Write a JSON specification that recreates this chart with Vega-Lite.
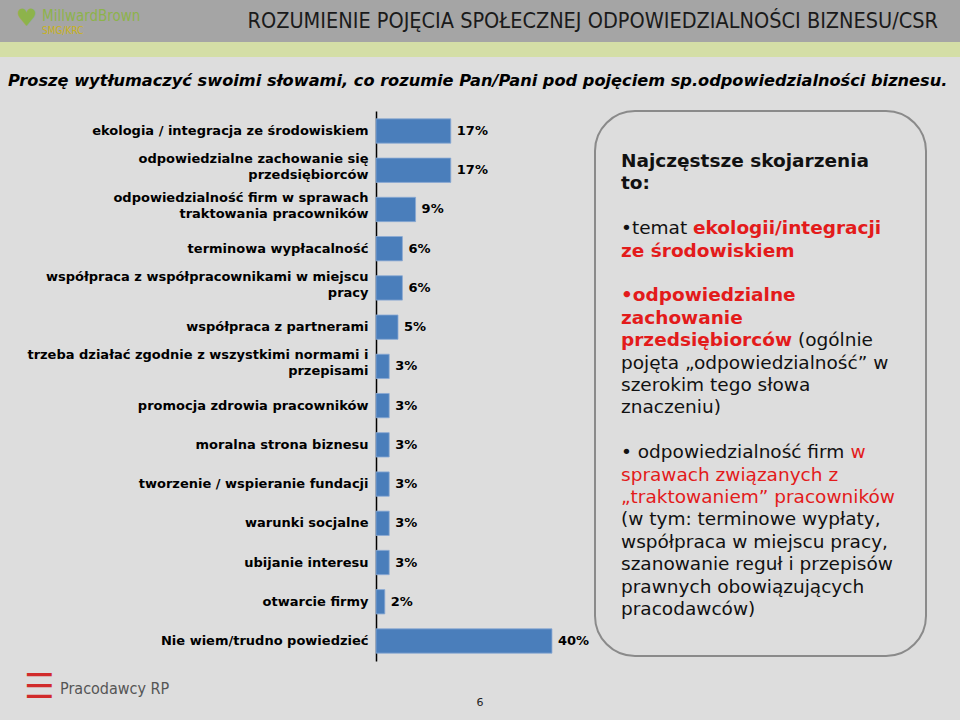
{
  "$schema": "https://vega.github.io/schema/vega-lite/v6.json",
  "background": "#dddddd",
  "padding": 0,
  "spacing": 0,
  "config": {"view": {"stroke": null}},
  "vconcat": [
    {
      "width": 960,
      "height": 42,
      "view": {"fill": "#a5a5a5", "stroke": null},
      "data": {"values": [
        {"part": "title", "text": "ROZUMIENIE POJĘCIA SPOŁECZNEJ ODPOWIEDZIALNOŚCI BIZNESU/CSR"},
        {"part": "icon", "text": "♥"},
        {"part": "brand", "text": "MillwardBrown"},
        {"part": "unit", "text": "SMG/KRC"}
      ]},
      "layer": [
        {
          "transform": [{"filter": "datum.part == 'title'"}],
          "mark": {"type": "text", "align": "right", "baseline": "middle", "dx": 458, "dy": 1, "font": "DejaVu Sans Condensed, Liberation Sans Narrow, Liberation Sans", "fontSize": 21.5, "color": "#1a1a1a"},
          "encoding": {"text": {"field": "text"}}
        },
        {
          "transform": [{"filter": "datum.part == 'icon'"}],
          "mark": {"type": "text", "align": "left", "baseline": "middle", "dx": -464, "dy": -2, "font": "DejaVu Sans", "fontSize": 24, "color": "#8db34b"},
          "encoding": {"text": {"field": "text"}}
        },
        {
          "transform": [{"filter": "datum.part == 'brand'"}],
          "mark": {"type": "text", "align": "left", "baseline": "middle", "dx": -438, "dy": -5, "font": "DejaVu Sans Condensed, Liberation Sans Narrow, Liberation Sans", "fontSize": 15, "color": "#8db34b"},
          "encoding": {"text": {"field": "text"}}
        },
        {
          "transform": [{"filter": "datum.part == 'unit'"}],
          "mark": {"type": "text", "align": "left", "baseline": "middle", "dx": -438, "dy": 10, "font": "DejaVu Sans Condensed, Liberation Sans Narrow, Liberation Sans", "fontSize": 10, "color": "#c9b21a"},
          "encoding": {"text": {"field": "text"}}
        }
      ]
    },
    {
      "width": 960,
      "height": 15,
      "view": {"fill": "#d4dea6", "stroke": null},
      "data": {"values": [{}]},
      "mark": {"type": "text"},
      "encoding": {"text": {"value": ""}}
    },
    {
      "width": 960,
      "height": 53,
      "data": {"values": [{"text": "Proszę wytłumaczyć swoimi słowami, co rozumie Pan/Pani pod pojęciem sp.odpowiedzialności biznesu."}]},
      "mark": {"type": "text", "align": "left", "baseline": "middle", "dx": -472, "dy": -3, "font": "DejaVu Sans", "fontSize": 16.2, "fontWeight": "bold", "fontStyle": "italic", "color": "#000000"},
      "encoding": {"text": {"field": "text"}}
    },
    {
      "spacing": 2,
      "hconcat": [
        {
          "width": 1,
          "height": 550,
          "data": {"values": [{}]},
          "mark": {"type": "text"},
          "encoding": {"text": {"value": ""}}
        },
        {
          "width": 216,
          "height": 550,
          "data": {"values": [
            {"category": "ekologia / integracja ze środowiskiem", "share": 0.17},
            {"category": "odpowiedzialne zachowanie się\nprzedsiębiorców", "share": 0.17},
            {"category": "odpowiedzialność firm w sprawach\ntraktowania pracowników", "share": 0.09},
            {"category": "terminowa wypłacalność", "share": 0.06},
            {"category": "współpraca z współpracownikami w miejscu\npracy", "share": 0.06},
            {"category": "współpraca z partnerami", "share": 0.05},
            {"category": "trzeba działać zgodnie z wszystkimi normami i\nprzepisami", "share": 0.03},
            {"category": "promocja zdrowia pracowników", "share": 0.03},
            {"category": "moralna strona biznesu", "share": 0.03},
            {"category": "tworzenie / wspieranie fundacji", "share": 0.03},
            {"category": "warunki socjalne", "share": 0.03},
            {"category": "ubijanie interesu", "share": 0.03},
            {"category": "otwarcie firmy", "share": 0.02},
            {"category": "Nie wiem/trudno powiedzieć", "share": 0.40}
          ]},
          "encoding": {
            "y": {
              "field": "category",
              "type": "nominal",
              "sort": null,
              "scale": {"paddingInner": 0.38, "paddingOuter": 0.2},
              "axis": {
                "title": null,
                "ticks": false,
                "domainColor": "#000000",
                "domainWidth": 1.5,
                "labelPadding": 8,
                "labelFont": "DejaVu Sans",
                "labelFontSize": 13,
                "labelFontWeight": "bold",
                "labelColor": "#000000",
                "labelLimit": 400,
                "labelLineHeight": 16,
                "labelExpr": "split(datum.label, '\\n')",
                "labelOffset": {"condition": {"test": "indexof(datum.value, '\\n') >= 0", "value": -11}, "value": 0},
                "minExtent": 373
              }
            },
            "x": {
              "field": "share",
              "type": "quantitative",
              "scale": {"domain": [0, 0.491], "nice": false, "zero": true},
              "axis": null
            }
          },
          "layer": [
            {"mark": {"type": "bar", "color": "#4a7ebb", "stroke": "#8aa9d4", "strokeWidth": 0.8}},
            {
              "mark": {"type": "text", "align": "left", "baseline": "middle", "dx": 6, "font": "DejaVu Sans", "fontSize": 13, "fontWeight": "bold", "color": "#000000"},
              "encoding": {"text": {"field": "share", "format": ".0%"}}
            }
          ]
        },
        {
          "width": 331,
          "height": 545,
          "view": {"stroke": "#8a8a8a", "strokeWidth": 2, "cornerRadius": 40, "fill": null},
          "data": {"values": [
            {"line": 0, "seq": 1, "kind": "heading", "text": "Najczęstsze skojarzenia"},
            {"line": 1, "seq": 1, "kind": "heading", "text": "to:"},
            {"line": 3, "seq": 1, "kind": "body", "text": "•temat"},
            {"line": 3, "seq": 2, "kind": "highlight", "text": "ekologii/integracji"},
            {"line": 4, "seq": 1, "kind": "highlight", "text": "ze środowiskiem"},
            {"line": 6, "seq": 1, "kind": "highlight", "text": "•odpowiedzialne"},
            {"line": 7, "seq": 1, "kind": "highlight", "text": "zachowanie"},
            {"line": 8, "seq": 1, "kind": "highlight", "text": "przedsiębiorców"},
            {"line": 8, "seq": 2, "kind": "body", "text": "(ogólnie"},
            {"line": 9, "seq": 1, "kind": "body", "text": "pojęta „odpowiedzialność” w"},
            {"line": 10, "seq": 1, "kind": "body", "text": "szerokim tego słowa"},
            {"line": 11, "seq": 1, "kind": "body", "text": "znaczeniu)"},
            {"line": 13, "seq": 1, "kind": "body", "text": "• odpowiedzialność firm"},
            {"line": 13, "seq": 2, "kind": "accent", "text": "w"},
            {"line": 14, "seq": 1, "kind": "accent", "text": "sprawach związanych z"},
            {"line": 15, "seq": 1, "kind": "accent", "text": "„traktowaniem” pracowników"},
            {"line": 16, "seq": 1, "kind": "body", "text": "(w tym: terminowe wypłaty,"},
            {"line": 17, "seq": 1, "kind": "body", "text": "współpraca w miejscu pracy,"},
            {"line": 18, "seq": 1, "kind": "body", "text": "szanowanie reguł i przepisów"},
            {"line": 19, "seq": 1, "kind": "body", "text": "prawnych obowiązujących"},
            {"line": 20, "seq": 1, "kind": "body", "text": "pracodawców)"}
          ]},
          "encoding": {
            "y": {"field": "line", "type": "quantitative", "scale": {"domain": [-2.23, 22.1], "reverse": true, "nice": false, "zero": false}, "axis": null},
            "text": {"field": "text"}
          },
          "layer": [
            {
              "transform": [{"filter": "datum.kind == 'heading'"}],
              "mark": {"type": "text", "align": "left", "baseline": "middle", "dx": -139.5, "font": "DejaVu Sans", "fontSize": 18.5, "fontWeight": "bold", "color": "#111111"}
            },
            {
              "transform": [{"filter": "datum.kind == 'body' && datum.seq == 1"}],
              "mark": {"type": "text", "align": "left", "baseline": "middle", "dx": -139.5, "font": "DejaVu Sans", "fontSize": 18.5, "color": "#111111"}
            },
            {
              "transform": [{"filter": "datum.kind == 'highlight' && datum.seq == 1"}],
              "mark": {"type": "text", "align": "left", "baseline": "middle", "dx": -139.5, "font": "DejaVu Sans", "fontSize": 18.5, "fontWeight": "bold", "color": "#e31b1b"}
            },
            {
              "transform": [{"filter": "datum.kind == 'accent' && datum.seq == 1"}],
              "mark": {"type": "text", "align": "left", "baseline": "middle", "dx": -139.5, "font": "DejaVu Sans", "fontSize": 18.5, "color": "#e31b1b"}
            },
            {
              "transform": [{"filter": "datum.line == 3 && datum.seq == 2"}],
              "mark": {"type": "text", "align": "left", "baseline": "middle", "dx": -67.5, "font": "DejaVu Sans", "fontSize": 18.5, "fontWeight": "bold", "color": "#e31b1b"}
            },
            {
              "transform": [{"filter": "datum.line == 8 && datum.seq == 2"}],
              "mark": {"type": "text", "align": "left", "baseline": "middle", "dx": 37.5, "font": "DejaVu Sans", "fontSize": 18.5, "color": "#111111"}
            },
            {
              "transform": [{"filter": "datum.line == 13 && datum.seq == 2"}],
              "mark": {"type": "text", "align": "left", "baseline": "middle", "dx": 90, "font": "DejaVu Sans", "fontSize": 18.5, "color": "#e31b1b"}
            }
          ]
        }
      ]
    },
    {
      "width": 960,
      "height": 60,
      "data": {"values": [
        {"part": "mark", "text": "☰"},
        {"part": "logo", "text": "Pracodawcy RP"},
        {"part": "page", "text": "6"}
      ]},
      "layer": [
        {
          "transform": [{"filter": "datum.part == 'mark'"}],
          "mark": {"type": "text", "align": "left", "baseline": "middle", "dx": -456, "dy": -3, "font": "DejaVu Sans", "fontSize": 34, "color": "#d12b2b"},
          "encoding": {"text": {"field": "text"}}
        },
        {
          "transform": [{"filter": "datum.part == 'logo'"}],
          "mark": {"type": "text", "align": "left", "baseline": "middle", "dx": -420, "dy": -2, "font": "DejaVu Sans Condensed, Liberation Sans Narrow, Liberation Sans", "fontSize": 16, "color": "#555555"},
          "encoding": {"text": {"field": "text"}}
        },
        {
          "transform": [{"filter": "datum.part == 'page'"}],
          "mark": {"type": "text", "align": "center", "baseline": "middle", "dx": 0, "dy": 12, "font": "DejaVu Sans", "fontSize": 11, "color": "#222222"},
          "encoding": {"text": {"field": "text"}}
        }
      ]
    }
  ]
}
